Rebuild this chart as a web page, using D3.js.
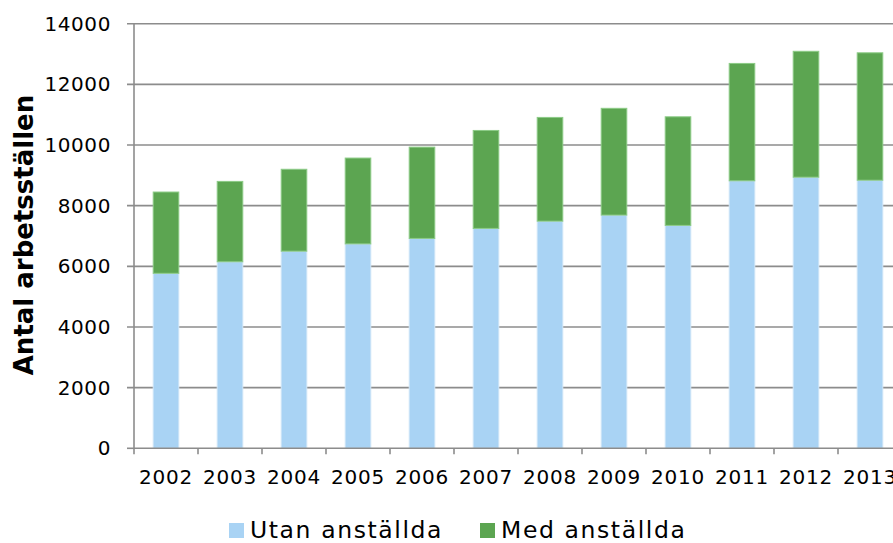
<!DOCTYPE html>
<html>
<head>
<meta charset="utf-8">
<script src="https://cdn.jsdelivr.net/npm/d3@7"></script>
<style>
  body { margin: 0; background: #fff; overflow: hidden; }
  text { font-family: "DejaVu Sans", Verdana, sans-serif; fill: #000; }
</style>
</head>
<body>
<script>
// data
var years = ["2002", "2003", "2004", "2005", "2006", "2007", "2008", "2009", "2010", "2011", "2012", "2013"];
var utan = [5770, 6150, 6500, 6740, 6920, 7250, 7490, 7690, 7350, 8820, 8940, 8840];
var med = [2680, 2650, 2700, 2830, 3010, 3230, 3420, 3520, 3580, 3870, 4150, 4200];
var yTicks = [0, 2000, 4000, 6000, 8000, 10000, 12000, 14000];
var seriesNames = ["Utan anställda", "Med anställda"];
var colors = ["#a9d3f4", "#5ca551"];
var edgeColors = ["#cfe6f8", "#8ccb86"];

var width = 893, height = 543;
var plotLeft = 134, plotRight = 902, plotTop = 23.7, plotBottom = 448.3;

var svg = d3.select("body").append("svg")
    .attr("width", width)
    .attr("height", height);

var x = d3.scaleBand()
    .domain(years)
    .range([plotLeft, plotRight])
    .paddingInner(0.6)
    .paddingOuter(0.3);

var y = d3.scaleLinear()
    .domain([0, 14000])
    .range([plotBottom, plotTop]);

// gridlines
svg.append("g").selectAll("line")
    .data(yTicks.slice(1))
    .enter().append("line")
    .attr("x1", plotLeft - 7)
    .attr("x2", width)
    .attr("y1", d => y(d))
    .attr("y2", d => y(d))
    .attr("stroke", "#8c8c8c")
    .attr("stroke-width", 1.6);

// stacked bars
var rows = years.map((yr, i) => ({ year: yr, utan: utan[i], med: med[i] }));
var stack = d3.stack().keys(["utan", "med"])(rows);

svg.append("g").selectAll("g")
    .data(stack)
    .enter().append("g")
    .attr("fill", (d, i) => colors[i])
    .attr("stroke", (d, i) => edgeColors[i])
    .attr("stroke-width", 1)
    .selectAll("rect")
    .data(d => d)
    .enter().append("rect")
    .attr("x", d => x(d.data.year))
    .attr("width", x.bandwidth())
    .attr("y", d => y(d[1]))
    .attr("height", d => y(d[0]) - y(d[1]));

// y axis
var yAxis = svg.append("g");
yAxis.append("line")
    .attr("x1", plotLeft).attr("x2", plotLeft)
    .attr("y1", plotTop).attr("y2", plotBottom)
    .attr("stroke", "#8c8c8c").attr("stroke-width", 1.6);
yAxis.append("line")
    .attr("x1", plotLeft - 7).attr("x2", plotLeft)
    .attr("y1", y(0)).attr("y2", y(0))
    .attr("stroke", "#8c8c8c").attr("stroke-width", 1.6);
yAxis.selectAll("text")
    .data(yTicks)
    .enter().append("text")
    .attr("x", 111)
    .attr("y", d => y(d) + 7)
    .attr("text-anchor", "end")
    .style("font-size", "20px")
    .style("letter-spacing", "0.6px")
    .text(d => d);

// x axis
var xAxis = svg.append("g");
xAxis.append("line")
    .attr("x1", plotLeft).attr("x2", width)
    .attr("y1", plotBottom).attr("y2", plotBottom)
    .attr("stroke", "#8c8c8c").attr("stroke-width", 1.6);
xAxis.selectAll("line.tick")
    .data(d3.range(years.length + 1))
    .enter().append("line")
    .attr("class", "tick")
    .attr("x1", i => plotLeft + i * x.step())
    .attr("x2", i => plotLeft + i * x.step())
    .attr("y1", plotBottom)
    .attr("y2", plotBottom + 6)
    .attr("stroke", "#8c8c8c").attr("stroke-width", 1.6);
xAxis.selectAll("text")
    .data(years)
    .enter().append("text")
    .attr("x", d => x(d) + x.bandwidth() / 2)
    .attr("y", 484)
    .attr("text-anchor", "middle")
    .style("font-size", "20px")
    .style("letter-spacing", "0.8px")
    .text(d => d);

// y title
svg.append("text")
    .attr("transform", "translate(33,235) rotate(-90)")
    .attr("text-anchor", "middle")
    .style("font-size", "26px")
    .style("font-weight", "bold")
    .text("Antal arbetsställen");

// legend
var legendX = [229, 480];
var legend = svg.append("g").selectAll("g")
    .data(seriesNames)
    .enter().append("g")
    .attr("transform", (d, i) => "translate(" + legendX[i] + ",523)");
legend.append("rect")
    .attr("width", 15).attr("height", 15)
    .attr("fill", (d, i) => colors[i]);
legend.append("text")
    .attr("x", 21)
    .attr("y", 15.3)
    .style("font-size", "23.5px")
    .style("letter-spacing", "1.6px")
    .text(d => d);
</script>
</body>
</html>
